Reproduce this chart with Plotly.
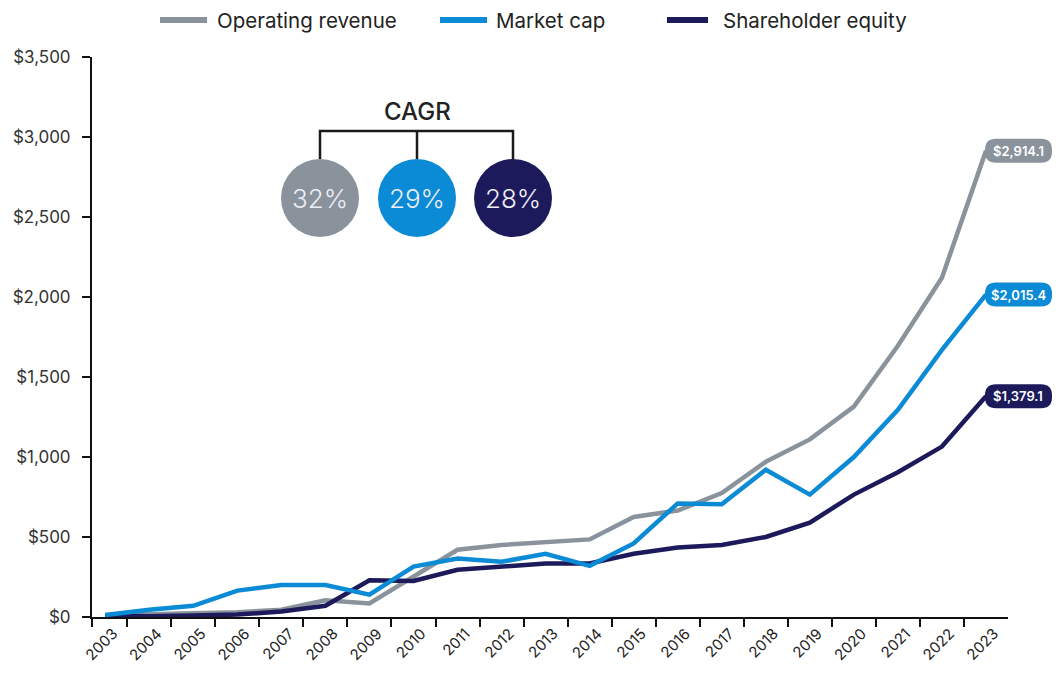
import plotly.graph_objects as go

# ---------------- data ----------------
years = list(range(2003, 2024))
operating_revenue = [11, 15, 25, 30, 45, 105, 85, 250, 420, 450, 465, 485, 625, 665, 775,
                     970, 1110, 1315, 1695, 2120, 2914.1]
market_cap = [12, 45, 70, 165, 200, 200, 140, 315, 365, 345, 395, 320, 460, 710, 705,
              920, 765, 1000, 1295, 1670, 2015.4]
shareholder_equity = [10, 5, 10, 15, 35, 70, 230, 225, 295, 315, 335, 335, 395, 435, 450,
                      500, 590, 765, 905, 1065, 1379.1]
series_names = ["Operating revenue", "Market cap", "Shareholder equity"]
cagr_labels = ["32%", "29%", "28%"]
end_labels = ["$2,914.1", "$2,015.4", "$1,379.1"]
y_ticks = [0, 500, 1000, 1500, 2000, 2500, 3000, 3500]

# ---------------- style ----------------
GRAY = "#8a939b"
BLUE = "#0b8ad5"
NAVY = "#1d1a5b"
colors = [GRAY, BLUE, NAVY]
FONT = "Inter"
TXT = "#222222"

PAGE_OFF = 8                      # browser body margin
W, H = 1061 - 2 * PAGE_OFF, 673 - 2 * PAGE_OFF
# plot area in page pixels
PX_L, PX_R, PX_T, PX_B = 92, 1008, 57, 617
Y_MAX = 3500
x_lo = years[0] - 0.3
x_hi = years[-1] + 0.5


def fx(px):
    return (px - PX_L) / (PX_R - PX_L)


def fy(py):
    return (PX_B - py) / (PX_B - PX_T)


def data_px(xv, yv):
    X = PX_L + (xv - x_lo) / (x_hi - x_lo) * (PX_R - PX_L)
    Y = PX_B - yv / Y_MAX * (PX_B - PX_T)
    return X, Y


def rounded_rect(x0, y0, x1, y1, r):
    pts = [
        ("M", [(x0 + r, y0)]),
        ("L", [(x1 - r, y0)]),
        ("Q", [(x1, y0), (x1, y0 + r)]),
        ("L", [(x1, y1 - r)]),
        ("Q", [(x1, y1), (x1 - r, y1)]),
        ("L", [(x0 + r, y1)]),
        ("Q", [(x0, y1), (x0, y1 - r)]),
        ("L", [(x0, y0 + r)]),
        ("Q", [(x0, y0), (x0 + r, y0)]),
    ]
    s = ""
    for cmd, ps in pts:
        s += cmd + " " + " ".join(f"{fx(a):.5f},{fy(b):.5f}" for a, b in ps) + " "
    return s + "Z"


series = [operating_revenue, market_cap, shareholder_equity]

fig = go.Figure()
draw_order = [0, 2, 1]
for i in draw_order:
    fig.add_trace(go.Scatter(
        x=years, y=series[i], mode="lines", name=series_names[i],
        line=dict(color=colors[i], width=4.5),
        showlegend=False, hoverinfo="x+y+name",
    ))

# invisible trace carrying the year-label axis
fig.add_trace(go.Scatter(x=years, y=[None] * len(years), xaxis="x2",
                         showlegend=False, hoverinfo="skip"))

shapes = []
annotations = []

# custom legend
leg_y = 20
leg_items = [(160, 207, 215), (440, 487, 494), (667, 708, 721)]
for (l0, l1, tx), c, name in zip(leg_items, colors, series_names):
    shapes.append(dict(type="line", xref="paper", yref="paper",
                       x0=fx(l0), x1=fx(l1), y0=fy(leg_y), y1=fy(leg_y),
                       line=dict(color=c, width=6)))
    annotations.append(dict(xref="paper", yref="paper", x=fx(tx), y=fy(leg_y),
                            xanchor="left", yanchor="middle", showarrow=False,
                            text=name, font=dict(family=FONT, size=20.5, color=TXT)))

# CAGR graphic
circ_x = [320, 417, 513]
circ_y = 198
circ_r = 39
bracket_y = 131
annotations.append(dict(xref="paper", yref="paper", x=fx(417), y=fy(111),
                        xanchor="center", yanchor="middle", showarrow=False,
                        text="CAGR", font=dict(family=FONT, size=24, color=TXT, weight=500)))
shapes.append(dict(type="path", xref="paper", yref="paper",
                   path=f"M {fx(circ_x[0])},{fy(circ_y - circ_r)} L {fx(circ_x[0])},{fy(bracket_y)} "
                        f"L {fx(circ_x[2])},{fy(bracket_y)} L {fx(circ_x[2])},{fy(circ_y - circ_r)} "
                        f"M {fx(circ_x[1])},{fy(bracket_y)} L {fx(circ_x[1])},{fy(circ_y - circ_r)}",
                   line=dict(color="#1a1a1a", width=2.5)))
for cx, c, lab in zip(circ_x, colors, cagr_labels):
    shapes.append(dict(type="circle", xref="paper", yref="paper",
                       x0=fx(cx - circ_r), x1=fx(cx + circ_r),
                       y0=fy(circ_y + circ_r), y1=fy(circ_y - circ_r),
                       fillcolor=c, line=dict(width=0)))
    annotations.append(dict(xref="paper", yref="paper", x=fx(cx), y=fy(circ_y),
                            xanchor="center", yanchor="middle", showarrow=False,
                            text=lab, font=dict(family=FONT, size=26, color="#eeeef6", weight=300)))

# end value labels
for s, c, lab in zip(series, colors, end_labels):
    X, Y = data_px(years[-1], s[-1])
    bx0, bx1 = X - 1, X + 66
    shapes.append(dict(type="path", xref="paper", yref="paper",
                       path=rounded_rect(bx0, Y - 12, bx1, Y + 12, 11),
                       fillcolor=c, line=dict(width=0)))
    annotations.append(dict(xref="paper", yref="paper", x=fx((bx0 + bx1) / 2), y=fy(Y),
                            xanchor="center", yanchor="middle", showarrow=False,
                            text=lab, font=dict(family=FONT, size=13, color="white", weight=600)))

boundary_ticks = [x_lo] + [y + 0.5 for y in years[:-1]]

fig.update_layout(
    width=W, height=H,
    margin=dict(l=PX_L - PAGE_OFF, r=W - (PX_R - PAGE_OFF), t=PX_T - PAGE_OFF,
                b=H - (PX_B - PAGE_OFF), autoexpand=False),
    paper_bgcolor="white", plot_bgcolor="white",
    showlegend=False,
    shapes=shapes, annotations=annotations,
    font=dict(family=FONT, color=TXT),
    xaxis=dict(range=[x_lo, x_hi], tickvals=boundary_ticks, ticktext=[""] * len(boundary_ticks),
               ticks="outside", ticklen=8, tickwidth=2, tickcolor="#111",
               showline=True, linecolor="#111", linewidth=2, showgrid=False, zeroline=False,
               fixedrange=True),
    xaxis2=dict(range=[x_lo, x_hi], overlaying="x", anchor="y", side="bottom",
                tickvals=years, ticktext=[str(y) for y in years], tickangle=-45,
                ticks="", showline=False, showgrid=False, zeroline=False,
                ticklabelshift=8, ticklabelstandoff=4,
                tickfont=dict(family=FONT, size=15, color=TXT)),
    yaxis=dict(range=[0, Y_MAX], tickvals=y_ticks,
               ticktext=[f"${v:,}" for v in y_ticks],
               ticks="outside", ticklen=8, tickwidth=2, tickcolor="#111",
               showline=True, linecolor="#111", linewidth=2, showgrid=False, zeroline=False,
               ticklabelstandoff=8,
               tickfont=dict(family=FONT, size=17, color="#333")),
)

fig.write_html("out.html")
